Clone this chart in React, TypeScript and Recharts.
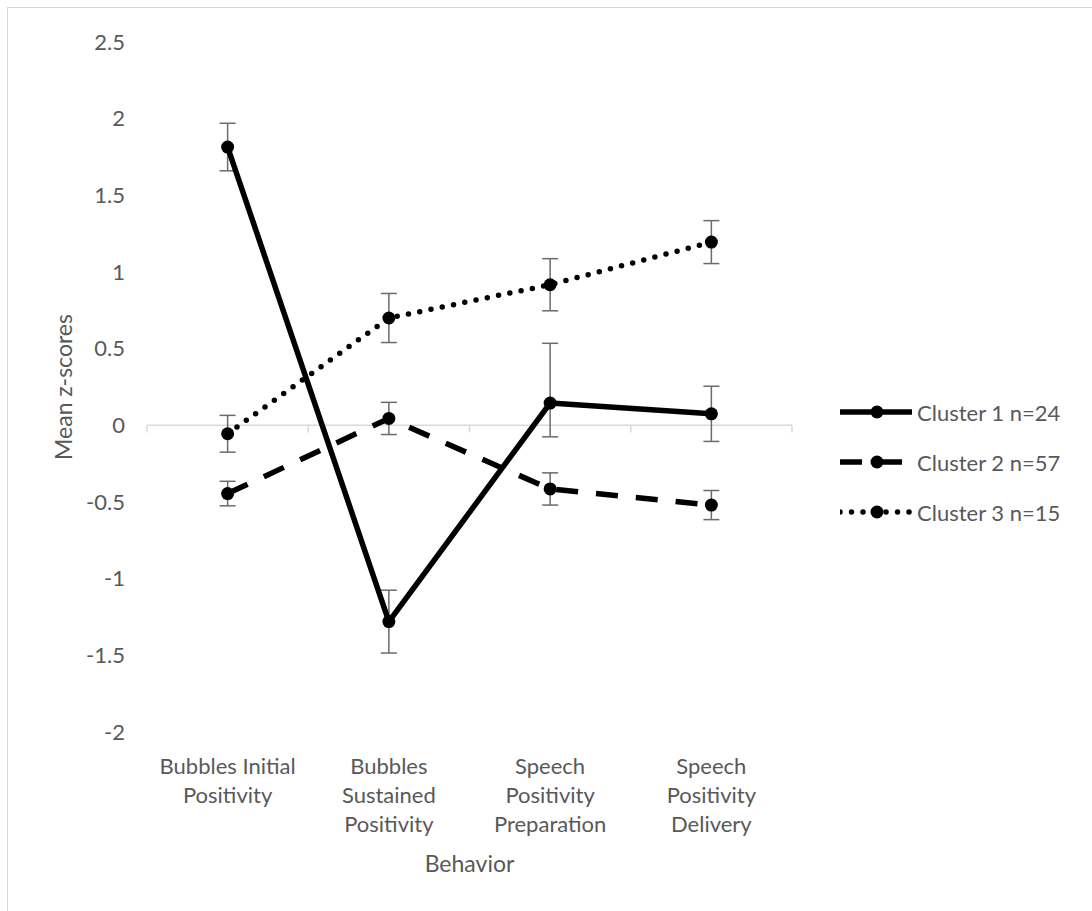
import { LineChart, Line, XAxis, YAxis, ErrorBar, ReferenceLine, Legend, Label } from "recharts";

// behaviours along the x axis, with the wrapped lines used for the tick labels
const categories = [
  "Bubbles Initial Positivity",
  "Bubbles Sustained Positivity",
  "Speech Positivity Preparation",
  "Speech Positivity Delivery",
];
const categoryLines = [
  ["Bubbles Initial", "Positivity"],
  ["Bubbles", "Sustained", "Positivity"],
  ["Speech", "Positivity", "Preparation"],
  ["Speech", "Positivity", "Delivery"],
];

// mean z-scores per cluster, error bars as [below, above]
const cluster1 = [1.815, -1.28, 0.145, 0.075];
const cluster1Err = [[0.155, 0.155], [0.205, 0.205], [0.22, 0.39], [0.18, 0.18]];
const cluster2 = [-0.445, 0.045, -0.415, -0.52];
const cluster2Err = [[0.08, 0.08], [0.105, 0.105], [0.105, 0.105], [0.095, 0.095]];
const cluster3 = [-0.055, 0.7, 0.917, 1.195];
const cluster3Err = [[0.12, 0.12], [0.16, 0.16], [0.17, 0.17], [0.14, 0.14]];

const seriesNames = ["Cluster 1 n=24", "Cluster 2 n=57", "Cluster 3 n=15"];
const yTicks = [2.5, 2, 1.5, 1, 0.5, 0, -0.5, -1, -1.5, -2];

const TEXT = "#595959";
const AXIS = "#d9d9d9";
const FONT = "Lato, 'Open Sans', sans-serif";
const FONT_SIZE = 22;

const data = categories.map((name, i) => ({
  x: i + 0.5,
  name,
  c1: cluster1[i],
  c1Err: cluster1Err[i],
  c2: cluster2[i],
  c2Err: cluster2Err[i],
  c3: cluster3[i],
  c3Err: cluster3Err[i],
}));

// category boundaries, where the zero line gets its small tick marks
const boundaries = Array.from({ length: categories.length + 1 }, (_, i) => i);

const series = [
  { key: "c1", name: seriesNames[0], dash: undefined as string | undefined, cap: "butt" as const },
  { key: "c2", name: seriesNames[1], dash: "22 18", cap: "butt" as const },
  { key: "c3", name: seriesNames[2], dash: "0 11.5", cap: "round" as const },
];

function Dot(props: any) {
  const { cx, cy } = props;
  if (cx == null || cy == null) return null;
  return <circle cx={cx} cy={cy} r={6.5} fill="#000" />;
}

function CategoryTick({ x, y, payload }: any) {
  const lines = categoryLines[Math.floor(payload.value)] ?? [];
  return (
    <text textAnchor="middle" fill={TEXT} fontSize={FONT_SIZE} fontFamily={FONT} dominantBaseline="central">
      {lines.map((l, i) => (
        <tspan key={i} x={x} y={y + 31 + i * 29}>
          {l}
        </tspan>
      ))}
    </text>
  );
}

// axis titles drawn relative to the axis box recharts hands to the label
function XTitle({ viewBox }: any) {
  const cx = viewBox.x + viewBox.width / 2;
  return (
    <text x={cx} y={viewBox.y + 131} textAnchor="middle" dominantBaseline="central"
      fill={TEXT} fontSize={FONT_SIZE + 1} fontFamily={FONT}>
      Behavior
    </text>
  );
}

function YTitle({ viewBox }: any) {
  const x = viewBox.x + 63;
  const y = viewBox.y + viewBox.height / 2;
  return (
    <text x={x} y={y} transform={`rotate(-90, ${x}, ${y})`} textAnchor="middle" dominantBaseline="central"
      fill={TEXT} fontSize={FONT_SIZE + 1} fontFamily={FONT}>
      Mean z-scores
    </text>
  );
}

function LegendBox() {
  return (
    <div style={{ fontFamily: FONT, fontSize: FONT_SIZE, color: TEXT }}>
      {series.map((s) => (
        <div key={s.key} style={{ height: 50, display: "flex", alignItems: "center" }}>
          <svg width={72} height={20} style={{ display: "block" }}>
            <line x1={0} x2={72} y1={10} y2={10} stroke="#000" strokeWidth={5.5}
              strokeDasharray={s.dash} strokeLinecap={s.cap} />
            <circle cx={37} cy={10} r={6.5} fill="#000" />
          </svg>
          <span style={{ marginLeft: 5, whiteSpace: "nowrap" }}>{s.name}</span>
        </div>
      ))}
    </div>
  );
}

export default function App() {
  return (
    <div style={{ position: "absolute", left: 0, top: 0, width: 1092, height: 911, background: "#fff", overflow: "hidden" }}>
      <div style={{ position: "absolute", left: 7, top: 7, width: 1200, height: 1000, border: `1.5px solid ${AXIS}` }} />
      <LineChart
        width={1092}
        height={911}
        data={data}
        margin={{ top: 42, right: 300, bottom: 0, left: 0 }}
        style={{ position: "absolute", left: 0, top: 0, fontFamily: FONT }}
      >
        <XAxis
          dataKey="x"
          type="number"
          domain={[0, categories.length]}
          ticks={data.map((d) => d.x)}
          axisLine={false}
          tickLine={false}
          tickSize={0}
          height={179}
          interval={0}
          tick={<CategoryTick />}
        >
          <Label content={<XTitle />} />
        </XAxis>
        <YAxis
          type="number"
          domain={[-2, 2.5]}
          ticks={yTicks}
          width={147}
          axisLine={false}
          tickLine={false}
          tickSize={0}
          tickMargin={22}
          tick={{ fill: TEXT, fontSize: FONT_SIZE, fontFamily: FONT }}
        >
          <Label content={<YTitle />} />
        </YAxis>
        <ReferenceLine y={0} stroke={AXIS} strokeWidth={1.5} />
        {boundaries.map((b) => (
          <ReferenceLine
            key={b}
            segment={[{ x: b, y: 0 }, { x: b, y: -0.046 }]}
            stroke={AXIS}
            strokeWidth={1.5}
          />
        ))}
        {series.map((s) => (
          <Line
            key={s.key}
            dataKey={s.key}
            name={s.name}
            type="linear"
            stroke="#000"
            strokeWidth={5.5}
            strokeDasharray={s.dash}
            strokeLinecap={s.cap}
            strokeLinejoin="round"
            dot={<Dot />}
            activeDot={false}
            isAnimationActive={false}
          >
            <ErrorBar dataKey={`${s.key}Err`} direction="y" width={8} stroke="#6b6b6b" strokeWidth={1.5} />
          </Line>
        ))}
        <Legend
          layout="horizontal"
          align="center"
          verticalAlign="middle"
          wrapperStyle={{ left: 840, top: 387, width: 250 }}
          content={<LegendBox />}
        />
      </LineChart>
    </div>
  );
}
